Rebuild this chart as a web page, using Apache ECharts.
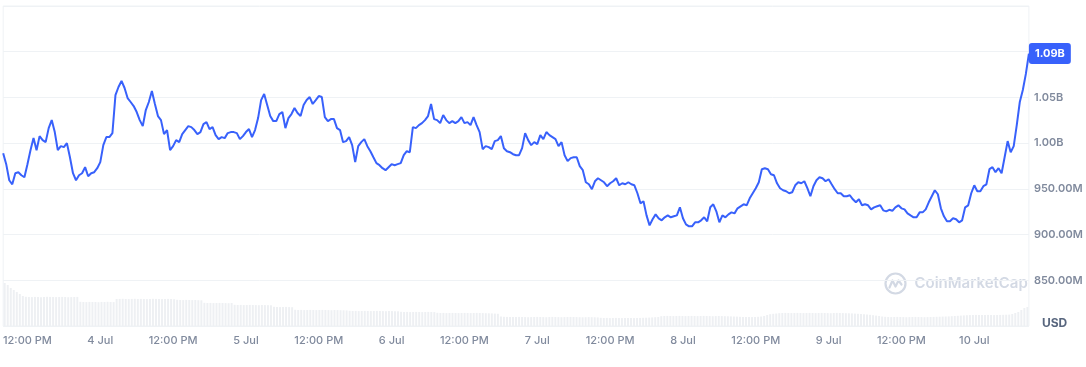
<!DOCTYPE html>
<html><head><meta charset="utf-8">
<script src="https://cdn.jsdelivr.net/npm/echarts@6/dist/echarts.min.js"></script>
<style>html,body{margin:0;padding:0;background:#fff}#c{width:1086px;height:367px}</style>
</head><body><div id="c"></div>
<script>
// Start of series (local time) and step between points
const startTime = new Date(2024, 6, 3, 8, 0, 0).getTime();
const stepMinutes = 30;

// Market cap, millions of USD, one point every 30 minutes
const priceM = [
989.0, 977.0, 959.4, 955.0, 967.1, 968.2, 964.9, 962.7, 977.0, 992.3,
1005.5, 992.3, 1007.7, 1003.3, 1001.1, 1016.4, 1025.2, 1012.1, 992.3, 996.7,
995.6, 1000.0, 984.6, 967.1, 959.4, 964.9, 967.1, 973.7, 963.8, 967.1,
968.2, 972.6, 979.2, 997.8, 1006.6, 1006.6, 1011.0, 1052.6, 1061.4, 1068.0,
1060.3, 1049.3, 1045.0, 1040.6, 1034.0, 1025.2, 1018.6, 1036.2, 1045.0, 1057.0,
1042.8, 1029.6, 1025.2, 1009.9, 1014.3, 992.3, 996.7, 1003.3, 1001.1, 1009.9,
1014.3, 1018.6, 1017.5, 1014.3, 1009.9, 1012.1, 1020.8, 1023.0, 1015.4, 1017.5,
1008.8, 1004.4, 1006.6, 1005.5, 1011.0, 1012.1, 1012.1, 1011.0, 1004.4, 1007.7,
1012.1, 1015.4, 1006.6, 1014.3, 1027.4, 1047.1, 1053.7, 1041.7, 1029.6, 1024.1,
1024.1, 1031.8, 1034.0, 1016.4, 1027.4, 1031.8, 1038.4, 1032.9, 1029.6, 1041.7,
1047.1, 1050.4, 1042.8, 1047.1, 1051.5, 1050.4, 1028.5, 1024.1, 1026.3, 1026.3,
1016.4, 1014.3, 1001.1, 1002.2, 1006.6, 997.8, 979.2, 996.7, 1001.1, 1004.4,
996.7, 991.2, 984.6, 978.1, 975.9, 972.6, 970.4, 973.7, 977.0, 975.9,
977.0, 978.1, 986.8, 991.2, 990.1, 1017.5, 1016.4, 1019.7, 1021.9, 1025.2,
1029.6, 1042.8, 1026.3, 1025.2, 1021.9, 1030.7, 1025.2, 1021.9, 1024.1, 1021.9,
1024.1, 1028.5, 1021.9, 1023.0, 1019.7, 1028.5, 1019.7, 1012.1, 993.4, 996.7,
995.6, 993.4, 1002.2, 1003.3, 1007.7, 994.5, 991.2, 990.1, 987.9, 986.8,
986.8, 994.5, 1011.0, 1003.3, 997.8, 1001.1, 998.9, 1008.8, 1004.4, 1012.1,
1008.8, 1006.6, 1004.4, 996.7, 1001.1, 986.8, 980.3, 983.6, 984.6, 984.6,
974.8, 970.4, 957.2, 955.0, 949.6, 958.3, 961.6, 959.4, 957.2, 952.9,
956.1, 958.3, 961.6, 953.9, 956.1, 955.0, 957.2, 955.0, 953.9, 945.2,
934.2, 936.4, 921.0, 910.1, 916.7, 922.1, 917.8, 915.6, 918.9, 921.0,
918.9, 920.0, 921.0, 929.8, 917.8, 911.2, 909.0, 909.0, 913.4, 913.4,
915.6, 918.9, 914.5, 929.8, 933.1, 925.4, 913.4, 921.0, 918.9, 922.1,
924.3, 923.2, 928.7, 930.9, 933.1, 932.0, 939.7, 945.2, 950.7, 957.2,
971.5, 972.6, 971.5, 966.0, 964.9, 956.1, 950.7, 948.5, 947.4, 945.2,
946.3, 953.9, 957.2, 956.1, 958.3, 950.7, 941.9, 952.9, 959.4, 962.7,
961.6, 958.3, 960.5, 955.0, 949.6, 945.2, 945.2, 941.9, 941.9, 943.0,
938.6, 935.3, 938.6, 932.0, 933.1, 932.0, 927.6, 929.8, 930.9, 932.0,
926.5, 925.4, 927.1, 926.0, 929.8, 932.0, 928.7, 927.6, 923.2, 921.0,
918.9, 918.9, 924.3, 924.3, 927.6, 935.3, 941.9, 948.5, 944.1, 928.7,
920.0, 914.5, 914.5, 917.8, 916.7, 913.4, 915.6, 929.8, 932.0, 945.2,
953.9, 947.4, 947.4, 952.9, 955.0, 971.5, 973.7, 968.2, 972.6, 967.1,
984.6, 1002.2, 990.1, 996.7, 1019.7, 1045.0, 1058.1, 1075.7, 1098.0
];

// Trading volume (same timestamps), arbitrary millions
const volumeM = [
430, 410, 380, 360, 340, 320, 300,
292, 290, 289, 291, 290, 288, 290, 292, 291, 290, 289, 290, 291, 290, 288, 289, 290, 291,
242, 240, 239, 241, 240, 240, 238, 241, 240, 242, 240, 239,
270, 271, 272, 270, 269, 271, 272, 270, 271, 270, 269, 270, 272, 271, 270, 269, 270, 271, 270, 268,
262, 260, 259, 261, 260, 259, 260, 258, 257,
232, 230, 231, 229, 230, 231, 230, 229, 228, 230,
212, 210, 211, 209, 210, 211, 210, 209, 208, 210, 209, 208, 207,
192, 190, 189, 190, 191, 189, 188,
162, 160, 161, 159, 160, 161, 160, 159, 160, 161, 160, 159, 158, 160, 159, 158, 157, 156,
152, 150, 151, 149, 150, 151, 150, 149, 150, 151, 150, 149, 148, 150, 149, 148, 147,
142, 140, 141, 139, 140, 141, 140, 139, 140, 141, 140, 139,
132, 130, 131, 129, 130, 131, 130, 129, 130, 131, 130, 129, 130, 131, 130, 129, 128, 127, 126, 124, 122,
95, 92, 91, 90, 89, 90, 91, 90, 89, 88, 89, 90, 91, 90, 89, 88, 90, 91, 90, 89, 88, 89, 90, 91, 90, 89, 88, 87, 88, 89, 88, 87, 86,
82, 80, 81, 79, 80, 81, 80, 79, 80, 81, 80, 79, 80, 81, 82, 83, 84, 86, 88, 90,
98, 100, 101, 100, 99, 100, 101, 100, 99, 100, 101, 100, 99, 100, 101, 100, 99, 98, 99, 100, 99, 98, 97, 96, 95, 94,
92, 90, 91, 90, 89, 90, 92, 95, 100, 110,
118, 122, 125, 128, 130, 131, 130, 129, 130, 131, 130, 129, 130, 131, 130, 129, 130, 131, 130, 129, 128, 130, 131, 130, 129, 128, 127, 126, 124, 122, 120, 118, 115, 112, 108, 104, 100,
95, 92, 90, 89, 90, 91, 90, 89, 88, 89, 90, 91, 90, 89, 88, 89, 90, 91, 92, 93, 94, 95, 96, 98, 100, 102,
104, 106, 108, 109, 110, 111, 110, 109, 110, 111, 110, 109, 110, 111, 112, 113, 114,
120, 130, 140, 160, 180, 190
];

const monthNames = ['Jan','Feb','Mar','Apr','May','Jun','Jul','Aug','Sep','Oct','Nov','Dec'];
const times = priceM.map((_, i) => String(startTime + i * stepMinutes * 60000));
const lastValue = priceM[priceM.length - 1];

function isTickTime(v) {
  const d = new Date(Number(v));
  return d.getMinutes() === 0 && (d.getHours() === 0 || d.getHours() === 12);
}
function xLabel(v) {
  const d = new Date(Number(v));
  if (d.getHours() === 0) return d.getDate() + ' ' + monthNames[d.getMonth()];
  return '12:00 PM';
}
function yLabel(v) {
  if (v === 800) return '{usd|USD}';
  if (v >= 1100) return '';
  if (v >= 1000) return (v / 1000).toFixed(2) + 'B';
  return v.toFixed(2) + 'M';
}

const chart = echarts.init(document.getElementById('c'), null, { renderer: 'canvas', devicePixelRatio: 1 });
chart.setOption({
  animation: false,
  backgroundColor: '#ffffff',
  textStyle: { fontFamily: 'Inter, "Noto Sans", sans-serif' },
  grid: { left: 3, right: 57, top: 6, bottom: 41, show: true, borderColor: '#eff2f5', borderWidth: 1 },
  xAxis: [{
    type: 'category',
    data: times,
    boundaryGap: false,
    axisLine: { show: false },
    axisTick: { show: false },
    splitLine: { show: false },
    axisLabel: {
      interval: (i, v) => isTickTime(v),
      formatter: xLabel,
      color: '#808a9d',
      fontSize: 11,
      fontWeight: 500,
      margin: 9
    }
  }, {
    type: 'category',
    data: times,
    boundaryGap: true,
    show: false
  }],
  yAxis: [{
    type: 'value',
    position: 'right',
    min: 800,
    max: 1150,
    interval: 50,
    axisLine: { show: false },
    axisTick: { show: false },
    splitLine: { show: true, lineStyle: { color: '#eff2f5', width: 1 } },
    axisLabel: {
      formatter: yLabel,
      color: '#808a9d',
      fontSize: 11,
      fontWeight: 600,
      margin: 5,
      rich: { usd: { color: '#58667e', fontSize: 12, fontWeight: 700, padding: [0, 0, 6, 8] } }
    }
  }, {
    type: 'value',
    min: 0,
    max: 3200,
    show: false
  }],
  series: [{
    type: 'bar',
    xAxisIndex: 1,
    yAxisIndex: 1,
    data: volumeM,
    barCategoryGap: '35%',
    itemStyle: { color: '#eef0f3' },
    silent: true,
    z: 1
  }, {
    type: 'line',
    data: priceM,
    showSymbol: false,
    smooth: false,
    lineStyle: { color: '#3861fb', width: 2 },
    itemStyle: { color: '#3861fb' },
    z: 3,
    markLine: {
      silent: true,
      symbol: ['none', 'none'],
      lineStyle: { color: 'rgba(255,255,255,0)', width: 0, type: 'solid' },
      emphasis: { disabled: true },
      data: [{ yAxis: lastValue }],
      label: {
        show: true,
        position: 'end',
        distance: 0,
        formatter: () => (Math.floor(lastValue / 10) / 100).toFixed(2) + 'B',
        backgroundColor: '#3861fb',
        color: '#ffffff',
        opacity: 1,
        fontSize: 11,
        fontWeight: 700,
        padding: [5, 6, 5, 6],
        borderRadius: 3
      }
    }
  }],
  graphic: [{
    type: 'group',
    left: 883,
    top: 271,
    silent: true,
    children: [{
      type: 'circle',
      shape: { cx: 11, cy: 11, r: 10 },
      style: { fill: 'none', stroke: '#d3d9e4', lineWidth: 2.2 }
    }, {
      type: 'polyline',
      shape: { points: [[5, 15], [8, 8], [11, 14], [14, 8], [17, 12]] },
      style: { fill: 'none', stroke: '#d3d9e4', lineWidth: 2.2, lineJoin: 'round', lineCap: 'round' }
    }, {
      type: 'text',
      x: 30,
      y: 11,
      style: { text: 'CoinMarketCap', font: '600 15px Inter, sans-serif', fill: '#d3d9e4', verticalAlign: 'middle' }
    }]
  }]
});
</script>
</body></html>
